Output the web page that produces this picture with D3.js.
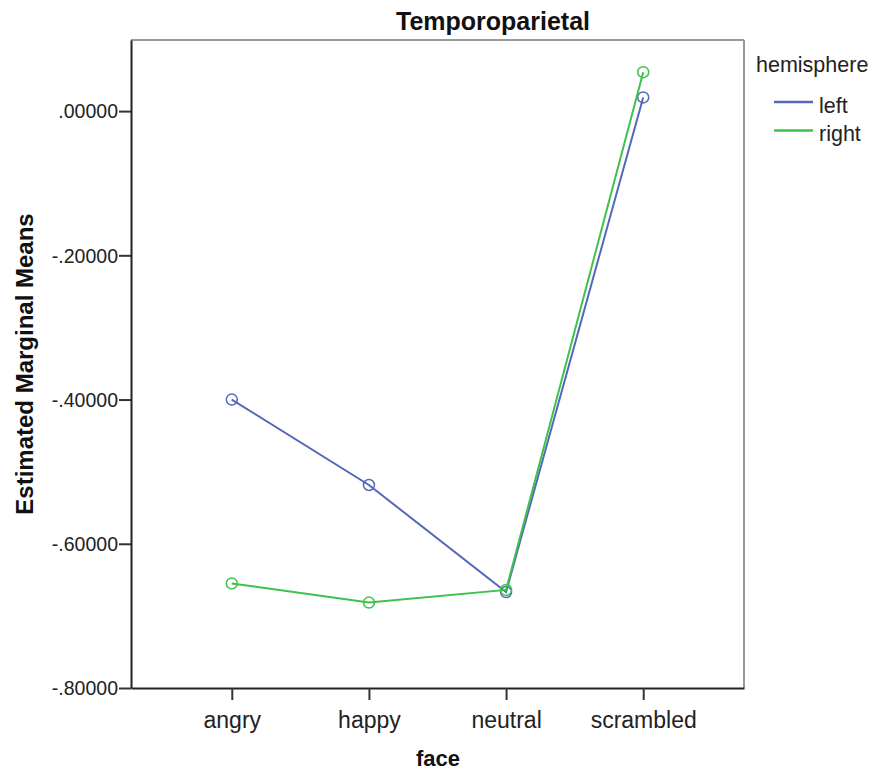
<!DOCTYPE html>
<html>
<head>
<meta charset="utf-8">
<script src="https://cdn.jsdelivr.net/npm/d3@7"></script>
<style>
  body { margin: 0; background: #fff; }
  text { font-family: "Liberation Sans", Arial, sans-serif; }
</style>
</head>
<body>
<div id="output"></div>
<script>
const faces = ["angry", "happy", "neutral", "scrambled"];
const leftMeans = [-0.400, -0.5185, -0.667, 0.019];
const rightMeans = [-0.655, -0.6815, -0.664, 0.054];
const yTicks = [0, -0.2, -0.4, -0.6, -0.8];

const series = [
  { name: "left", values: leftMeans, color: "#5567bb" },
  { name: "right", values: rightMeans, color: "#3ec24c" }
];

const margin = { top: 40, right: 140, bottom: 84, left: 131 };
const width = 884 - margin.left - margin.right;
const height = 772 - margin.top - margin.bottom;

const svg = d3.select("#output").append("svg")
  .attr("width", 884)
  .attr("height", 772);

const g = svg.append("g")
  .attr("transform", `translate(${margin.left},${margin.top})`);

// scales
const x = d3.scalePoint()
  .domain(faces)
  .range([0, width])
  .padding(0.735);

const y = d3.scaleLinear()
  .domain([-0.8, 0.0986])
  .range([height, 0]);

// frame: top and right light, left and bottom dark
g.append("line").attr("x1", 0).attr("x2", width).attr("y1", 0).attr("y2", 0)
  .attr("stroke", "#999").attr("stroke-width", 2);
g.append("line").attr("x1", width).attr("x2", width).attr("y1", 0).attr("y2", height)
  .attr("stroke", "#999").attr("stroke-width", 2);

// spss style tick labels: ".00000", "-.20000"
const fmt = d => {
  const s = Math.abs(d).toFixed(5).replace(/^0/, "");
  return d < 0 ? "-" + s : s;
};

// axes
const yAxis = g.append("g")
  .call(d3.axisLeft(y).tickValues(yTicks).tickSize(12).tickSizeOuter(0).tickFormat(fmt));

const xAxis = g.append("g")
  .attr("transform", `translate(0,${height})`)
  .call(d3.axisBottom(x).tickSize(12).tickSizeOuter(0));

[yAxis, xAxis].forEach(a => {
  a.select(".domain").attr("stroke", "#222").attr("stroke-width", 2);
  a.selectAll(".tick line").attr("stroke", "#333").attr("stroke-width", 2);
  a.selectAll(".tick text")
    .attr("fill", "#222")
    .style("font-family", "'Liberation Sans', Arial, sans-serif");
});
yAxis.selectAll(".tick text")
  .attr("x", -13).attr("dy", "0.35em")
  .style("font-size", "19.5px");
xAxis.selectAll(".tick text")
  .attr("y", 40).attr("dy", 0)
  .style("font-size", "23px");

// lines and points
const line = d3.line()
  .x((d, i) => x(faces[i]))
  .y(d => y(d));

series.forEach(s => {
  g.append("path")
    .datum(s.values)
    .attr("fill", "none")
    .attr("stroke", s.color)
    .attr("stroke-width", 2)
    .attr("d", line);

  g.selectAll(null)
    .data(s.values)
    .enter().append("circle")
    .attr("cx", (d, i) => x(faces[i]))
    .attr("cy", d => y(d))
    .attr("r", 5.5)
    .attr("fill", "none")
    .attr("stroke", s.color)
    .attr("stroke-width", 1.5);
});

// title
svg.append("text")
  .attr("x", 493)
  .attr("y", 30)
  .attr("text-anchor", "middle")
  .style("font-weight", "bold")
  .style("font-size", "25px")
  .attr("fill", "#111")
  .text("Temporoparietal");

// axis titles
svg.append("text")
  .attr("transform", "translate(33,364) rotate(-90)")
  .attr("text-anchor", "middle")
  .style("font-weight", "bold")
  .style("font-size", "24px")
  .attr("fill", "#111")
  .text("Estimated Marginal Means");

svg.append("text")
  .attr("x", 438)
  .attr("y", 766)
  .attr("text-anchor", "middle")
  .style("font-weight", "bold")
  .style("font-size", "22px")
  .attr("fill", "#111")
  .text("face");

// legend
const legend = svg.append("g").attr("transform", "translate(756,0)");
legend.append("text")
  .attr("x", 0).attr("y", 72)
  .style("font-size", "21.5px")
  .attr("fill", "#222")
  .text("hemisphere");

series.forEach((s, i) => {
  const ly = 102 + i * 28.5;
  legend.append("line")
    .attr("x1", 18).attr("x2", 57)
    .attr("y1", ly).attr("y2", ly)
    .attr("stroke", s.color).attr("stroke-width", 2.5);
  legend.append("text")
    .attr("x", 63).attr("y", ly + 10.5)
    .style("font-size", "21.5px")
    .attr("fill", "#222")
    .text(s.name);
});
</script>
</body>
</html>
